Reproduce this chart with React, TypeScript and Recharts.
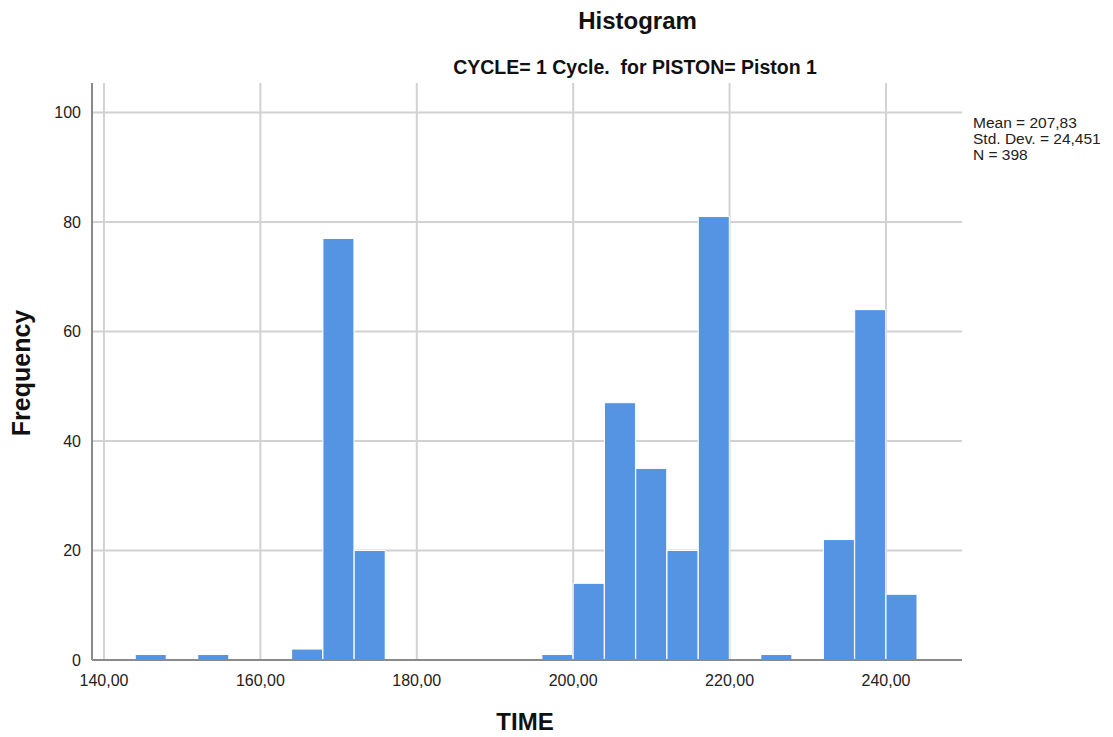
import React from 'react';
import { BarChart, Bar, XAxis, YAxis, CartesianGrid } from 'recharts';

// histogram bins (4 units wide), centre of each bin
const binCenters = [
  146, 150, 154, 158, 162, 166, 170, 174, 178, 182, 186, 190, 194,
  198, 202, 206, 210, 214, 218, 222, 226, 230, 234, 238, 242,
];
const frequencies = [
  1, 0, 1, 0, 0, 2, 77, 20, 0, 0, 0, 0, 0,
  1, 14, 47, 35, 20, 81, 0, 1, 0, 22, 64, 12,
];
const timeTicks = [140, 160, 180, 200, 220, 240];
const freqTicks = [0, 20, 40, 60, 80, 100];
const statLines = ['Mean = 207,83', 'Std. Dev. = 24,451', 'N = 398'];

const data = binCenters.map((c, i) => ({ time: c, count: frequencies[i] }));

const FONT = '"Liberation Sans", Arial, Helvetica, sans-serif';
const fmtComma = (v: number) => v.toFixed(2).replace('.', ',');

export default function App() {
  return (
    <div style={{ position: 'absolute', left: 0, top: 0, width: 1113, height: 737, background: '#fff', fontFamily: FONT }}>
      <div style={{ position: 'absolute', left: 0, width: 1113, top: 7, paddingLeft: 162, boxSizing: 'border-box', textAlign: 'center', fontSize: 24, fontWeight: 'bold', color: '#111' }}>
        Histogram
      </div>
      <div style={{ position: 'absolute', left: 0, width: 1113, top: 56, paddingLeft: 157, boxSizing: 'border-box', textAlign: 'center', fontSize: 19.5, fontWeight: 'bold', color: '#111' }}>
        CYCLE= 1 Cycle.&nbsp; for PISTON= Piston 1
      </div>

      <BarChart
        width={1113}
        height={737}
        data={data}
        margin={{ top: 83, right: 151, bottom: 0, left: 0 }}
        barCategoryGap={0}
        barGap={0}
      >
        {/* grid only at the tick values, no frame around the plot */}
        <CartesianGrid stroke="#d2d2d2" strokeWidth={2} syncWithTicks />
        <XAxis
          dataKey="time"
          type="number"
          domain={[138.47, 249.72]}
          ticks={timeTicks}
          allowDataOverflow
          tickFormatter={fmtComma}
          height={77}
          tickLine={false}
          axisLine={{ stroke: '#8a8a8a', strokeWidth: 2 }}
          tick={{ fill: '#222', fontSize: 16, fontFamily: FONT }}
          tickMargin={9}
        />
        <YAxis
          type="number"
          domain={[0, 105.4]}
          ticks={freqTicks}
          allowDataOverflow
          width={92}
          tickLine={false}
          axisLine={{ stroke: '#8a8a8a', strokeWidth: 2 }}
          tick={{ fill: '#222', fontSize: 16, fontFamily: FONT }}
          tickMargin={5}
        />
        <Bar dataKey="count" fill="#5594e3" stroke="#ffffff" strokeWidth={1} isAnimationActive={false} />
      </BarChart>

      <div style={{ position: 'absolute', left: 973, top: 115, fontSize: 15.5, lineHeight: '16px', color: '#222' }}>
        {statLines.map((s) => (
          <div key={s}>{s}</div>
        ))}
      </div>

      <div style={{ position: 'absolute', left: 525, top: 722, transform: 'translate(-50%, -50%)', fontSize: 24, fontWeight: 'bold', color: '#111' }}>
        TIME
      </div>
      <div style={{ position: 'absolute', left: 21, top: 373, transform: 'translate(-50%, -50%) rotate(-90deg)', fontSize: 25, fontWeight: 'bold', color: '#111', whiteSpace: 'nowrap' }}>
        Frequency
      </div>
    </div>
  );
}
